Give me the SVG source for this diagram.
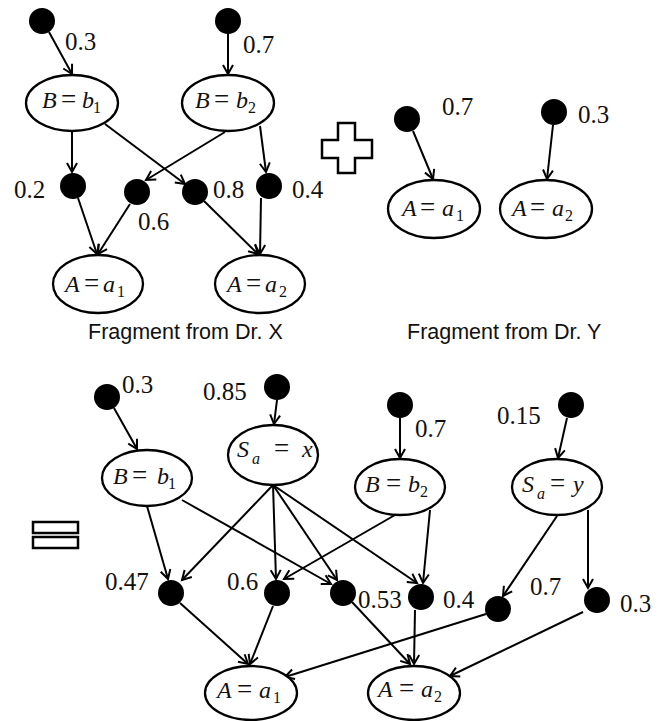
<svg xmlns="http://www.w3.org/2000/svg" width="668" height="721" viewBox="0 0 668 721">
<style>
.n ellipse{fill:#fff;stroke:#000;stroke-width:2.3}
.dot{fill:#000}
#edges line{stroke:#000;stroke-width:2;marker-end:url(#ah)}
.num{font-family:"Liberation Serif",serif;font-size:25px;fill:#111}
.m{font-family:"Liberation Serif",serif;font-size:24px;fill:#111}
.i{font-style:italic}
.eq{font-size:27px}
.s{font-size:16px}
.cap{font-family:"Liberation Sans",sans-serif;font-size:21.5px;fill:#111}
.op{fill:#fff;stroke:#000;stroke-width:2.5}
</style>
<defs>
<marker id="ah" markerWidth="14" markerHeight="14" refX="11" refY="7" orient="auto" markerUnits="userSpaceOnUse">
<path d="M2,2 L11,7 L2,12" fill="none" stroke="#000" stroke-width="2"/>
</marker>
</defs>

<g id="edges">
<!-- fragment X -->
<line x1="49" y1="32" x2="72" y2="74"/>
<line x1="228" y1="34" x2="228" y2="74"/>
<line x1="72" y1="131" x2="72" y2="172"/>
<line x1="105" y1="124" x2="185" y2="184"/>
<line x1="225" y1="132" x2="146" y2="180"/>
<line x1="260" y1="126" x2="266" y2="172"/>
<line x1="78" y1="198" x2="97" y2="254"/>
<line x1="130" y1="204" x2="98" y2="254"/>
<line x1="204" y1="201" x2="258" y2="254"/>
<line x1="261" y1="198" x2="260" y2="254"/>
<!-- fragment Y -->
<line x1="413" y1="131" x2="433" y2="179"/>
<line x1="553" y1="125" x2="547" y2="179"/>
<!-- merged -->
<line x1="114" y1="408" x2="137" y2="449"/>
<line x1="277" y1="400" x2="274" y2="424"/>
<line x1="400" y1="418" x2="400" y2="458"/>
<line x1="567" y1="418" x2="558" y2="458"/>
<line x1="147" y1="506" x2="168" y2="579"/>
<line x1="182" y1="500" x2="331" y2="584"/>
<line x1="273" y1="485" x2="182" y2="580"/>
<line x1="273" y1="485" x2="276" y2="579"/>
<line x1="273" y1="485" x2="337" y2="580"/>
<line x1="273" y1="485" x2="417" y2="583"/>
<line x1="395" y1="515" x2="284" y2="579"/>
<line x1="430" y1="510" x2="423" y2="583"/>
<line x1="557" y1="516" x2="503" y2="596"/>
<line x1="588" y1="510" x2="588" y2="588"/>
<line x1="180" y1="603" x2="248" y2="664"/>
<line x1="273" y1="606" x2="250" y2="664"/>
<line x1="486" y1="614" x2="285" y2="677"/>
<line x1="352" y1="602" x2="410" y2="664"/>
<line x1="415" y1="610" x2="414" y2="664"/>
<line x1="583" y1="612" x2="450" y2="676"/>
</g>

<!-- Fragment from Dr. X -->
<g id="x_root1"><circle class="dot" cx="42" cy="21" r="13"/><text class="num" x="65" y="50">0.3</text></g>
<g id="x_root2"><circle class="dot" cx="228" cy="21" r="13"/><text class="num" x="243" y="53">0.7</text></g>
<g id="x_b1" class="n"><ellipse cx="72" cy="103" rx="46" ry="28"/>
<text class="m" y="108"><tspan class="i" x="42">B</tspan><tspan class="eq" x="61">=</tspan><tspan class="i" x="82">b</tspan><tspan class="s" x="93" y="113">1</tspan></text></g>
<g id="x_b2" class="n"><ellipse cx="228" cy="103" rx="46" ry="28"/>
<text class="m" y="108"><tspan class="i" x="195">B</tspan><tspan class="eq" x="214">=</tspan><tspan class="i" x="236">b</tspan><tspan class="s" x="248" y="113">2</tspan></text></g>
<g id="x_f1"><circle class="dot" cx="73" cy="186" r="13"/><text class="num" x="14" y="198">0.2</text></g>
<g id="x_f2"><circle class="dot" cx="137" cy="192" r="13"/><text class="num" x="138" y="230">0.6</text></g>
<g id="x_f3"><circle class="dot" cx="195" cy="192" r="13"/><text class="num" x="213" y="198">0.8</text></g>
<g id="x_f4"><circle class="dot" cx="269" cy="186" r="13"/><text class="num" x="292" y="198">0.4</text></g>
<g id="x_a1" class="n"><ellipse cx="98" cy="284" rx="45" ry="29"/>
<text class="m" y="292"><tspan class="i" x="65">A</tspan><tspan class="eq" x="84">=</tspan><tspan class="i" x="103">a</tspan><tspan class="s" x="117" y="297">1</tspan></text></g>
<g id="x_a2" class="n"><ellipse cx="260" cy="284" rx="45" ry="29"/>
<text class="m" y="292"><tspan class="i" x="227">A</tspan><tspan class="eq" x="246">=</tspan><tspan class="i" x="265">a</tspan><tspan class="s" x="279" y="297">2</tspan></text></g>
<text class="cap" x="88" y="339">Fragment from Dr. X</text>

<!-- plus -->
<polygon class="op" points="338,123 355,123 355,140 372,140 372,158 355,158 355,173 338,173 338,158 322,158 322,140 338,140"/>

<!-- Fragment from Dr. Y -->
<g id="y_root1"><circle class="dot" cx="407" cy="119" r="13"/><text class="num" x="442" y="115">0.7</text></g>
<g id="y_root2"><circle class="dot" cx="554" cy="112" r="13"/><text class="num" x="578" y="123">0.3</text></g>
<g id="y_a1" class="n"><ellipse cx="434" cy="209" rx="46" ry="29"/>
<text class="m" y="216"><tspan class="i" x="402">A</tspan><tspan class="eq" x="420">=</tspan><tspan class="i" x="442">a</tspan><tspan class="s" x="456" y="221">1</tspan></text></g>
<g id="y_a2" class="n"><ellipse cx="546" cy="209" rx="46" ry="29"/>
<text class="m" y="216"><tspan class="i" x="512">A</tspan><tspan class="eq" x="530">=</tspan><tspan class="i" x="552">a</tspan><tspan class="s" x="565" y="221">2</tspan></text></g>
<text class="cap" x="407" y="339">Fragment from Dr. Y</text>

<!-- equals -->
<rect class="op" x="33" y="522" width="45" height="11"/>
<rect class="op" x="33" y="537" width="45" height="11"/>

<!-- merged -->
<g id="m_root_b1"><circle class="dot" cx="107" cy="397" r="13"/><text class="num" x="122" y="393">0.3</text></g>
<g id="m_root_sx"><circle class="dot" cx="277" cy="387" r="13"/><text class="num" x="203" y="400">0.85</text></g>
<g id="m_root_b2"><circle class="dot" cx="400" cy="405" r="13"/><text class="num" x="415" y="437">0.7</text></g>
<g id="m_root_sy"><circle class="dot" cx="571" cy="405" r="13"/><text class="num" x="497" y="424">0.15</text></g>
<g id="m_b1" class="n"><ellipse cx="147" cy="478" rx="45" ry="28"/>
<text class="m" y="484"><tspan class="i" x="113">B</tspan><tspan class="eq" x="132">=</tspan><tspan class="i" x="157">b</tspan><tspan class="s" x="168" y="489">1</tspan></text></g>
<g id="m_sx" class="n"><ellipse cx="273" cy="455" rx="45" ry="30"/>
<text class="m" y="457"><tspan class="i" x="237">S</tspan><tspan class="i s" x="252" y="464">a</tspan><tspan class="eq" x="274" y="457">=</tspan><tspan class="i" x="302">x</tspan></text></g>
<g id="m_b2" class="n"><ellipse cx="400" cy="487" rx="45" ry="28"/>
<text class="m" y="492"><tspan class="i" x="365">B</tspan><tspan class="eq" x="386">=</tspan><tspan class="i" x="408">b</tspan><tspan class="s" x="420" y="497">2</tspan></text></g>
<g id="m_sy" class="n"><ellipse cx="557" cy="487" rx="45" ry="28"/>
<text class="m" y="492"><tspan class="i" x="522">S</tspan><tspan class="i s" x="537" y="499">a</tspan><tspan class="eq" x="550" y="492">=</tspan><tspan class="i" x="573">y</tspan></text></g>
<g id="m_f1"><circle class="dot" cx="171" cy="593" r="13"/><text class="num" x="105" y="590">0.47</text></g>
<g id="m_f2"><circle class="dot" cx="277" cy="593" r="13"/><text class="num" x="227" y="590">0.6</text></g>
<g id="m_f3"><circle class="dot" cx="343" cy="593" r="13"/><text class="num" x="358" y="608">0.53</text></g>
<g id="m_f4"><circle class="dot" cx="421" cy="597" r="13"/><text class="num" x="443" y="608">0.4</text></g>
<g id="m_f5"><circle class="dot" cx="498" cy="609" r="13"/><text class="num" x="530" y="595">0.7</text></g>
<g id="m_f6"><circle class="dot" cx="597" cy="600" r="13"/><text class="num" x="620" y="612">0.3</text></g>
<g id="m_a1" class="n"><ellipse cx="251" cy="693" rx="46" ry="27"/>
<text class="m" y="698"><tspan class="i" x="217">A</tspan><tspan class="eq" x="237">=</tspan><tspan class="i" x="259">a</tspan><tspan class="s" x="273" y="703">1</tspan></text></g>
<g id="m_a2" class="n"><ellipse cx="414" cy="693" rx="46" ry="27"/>
<text class="m" y="697"><tspan class="i" x="378">A</tspan><tspan class="eq" x="399">=</tspan><tspan class="i" x="421">a</tspan><tspan class="s" x="434" y="702">2</tspan></text></g>
</svg>
